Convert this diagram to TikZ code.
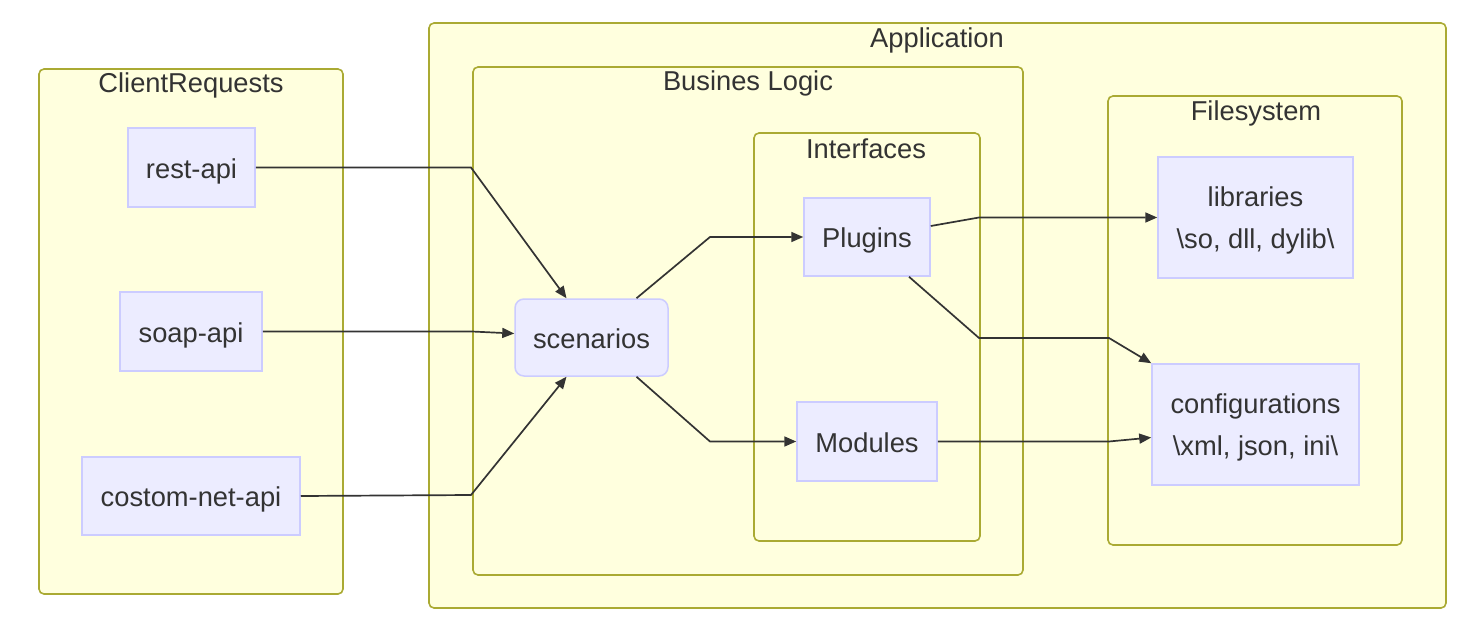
\documentclass[tikz,border=0pt]{standalone}
\usepackage{fontspec}
\setmainfont{Liberation Sans}
\usetikzlibrary{arrows.meta,calc}
\definecolor{clfill}{HTML}{FFFFDE}
\definecolor{cldraw}{HTML}{AAAA33}
\definecolor{ndfill}{HTML}{ECECFF}
\definecolor{nddraw}{HTML}{CCCCFF}
\definecolor{txt}{HTML}{333333}
\begin{document}
\begin{tikzpicture}[x=1pt,y=-1pt,
  every node/.style={font=\fontsize{27.3}{42}\selectfont, text=txt, inner sep=0pt},
  cluster/.style={draw=cldraw, fill=clfill, line width=1.6pt, rounded corners=5pt},
  ctitle/.style={anchor=center},
  box/.style={draw=nddraw, fill=ndfill, line width=1.5pt, align=center},
  onel/.style={text height=26pt, text depth=5pt},
  twol/.style={text depth=-8pt},
  conn/.style={draw=txt, line width=1.7pt, -{Triangle[length=12pt,width=10pt]}}]
\useasboundingbox (0,0) rectangle (1483,634);
% clusters
\node[cluster, minimum width=304pt, minimum height=525pt] (cr) at (191,331.5) {};
\node[ctitle] (crt) at (191,85) {ClientRequests};
\node[cluster, minimum width=1017pt, minimum height=585pt] (app) at (937.5,315.5) {};
\node[ctitle] (appt) at (937,40) {Application};
\node[cluster, minimum width=550pt, minimum height=508pt] (bl) at (748,321) {};
\node[ctitle] (blt) at (748,83) {Busines Logic};
\node[cluster, minimum width=226pt, minimum height=408pt] (ifc) at (867,337) {};
\node[ctitle] (ifct) at (866,149) {Interfaces};
\node[cluster, minimum width=294pt, minimum height=449pt] (fs) at (1255,320.5) {};
\node[ctitle] (fst) at (1256,113) {Filesystem};
% nodes
\node[box, onel, minimum width=127pt, minimum height=79pt] (rest) at (191.5,167.5) {rest-api};
\node[box, onel, minimum width=142pt, minimum height=79pt] (soap) at (191,331.5) {soap-api};
\node[box, onel, minimum width=218pt, minimum height=78pt] (cust) at (191,496) {costom-net-api};
\node[box, onel, rounded corners=9pt, minimum width=153pt, minimum height=77pt] (scen) at (591.5,337.5) {scenarios};
\node[box, onel, minimum width=126pt, minimum height=78pt] (plug) at (867,237) {Plugins};
\node[box, onel, minimum width=140pt, minimum height=79pt] (mod) at (867,441.5) {Modules};
\node[box, twol, minimum width=195pt, minimum height=121pt] (lib) at (1255.5,217.5) {libraries\\\textbackslash so, dll, dylib\textbackslash};
\node[box, twol, minimum width=207pt, minimum height=121pt] (conf) at (1255.5,424.5) {configurations\\\textbackslash xml, json, ini\textbackslash};
% connectors
\draw[conn] (rest.east) -- (471,167.5) -- ($(scen.north)+(-25,0)$);
\draw[conn] (soap.east) -- (472,331.5) -- ($(scen.west)+(0,-4)$);
\draw[conn] (cust.east) -- (471,495) -- ($(scen.south)+(-25,0)$);
\draw[conn] ($(scen.north)+(45,0)$) -- (710,237) -- (plug.west);
\draw[conn] ($(scen.south)+(45,0)$) -- (710,441.5) -- (mod.west);
\draw[conn] ($(plug.east)+(0,-11)$) -- (979,217.5) -- (lib.west);
\draw[conn] ($(plug.south)+(42,0)$) -- (979,338) -- (1109,338) -- (conf.north west);
\draw[conn] (mod.east) -- (1109,441.5) -- ($(conf.west)+(0,13)$);
\end{tikzpicture}
\end{document}
